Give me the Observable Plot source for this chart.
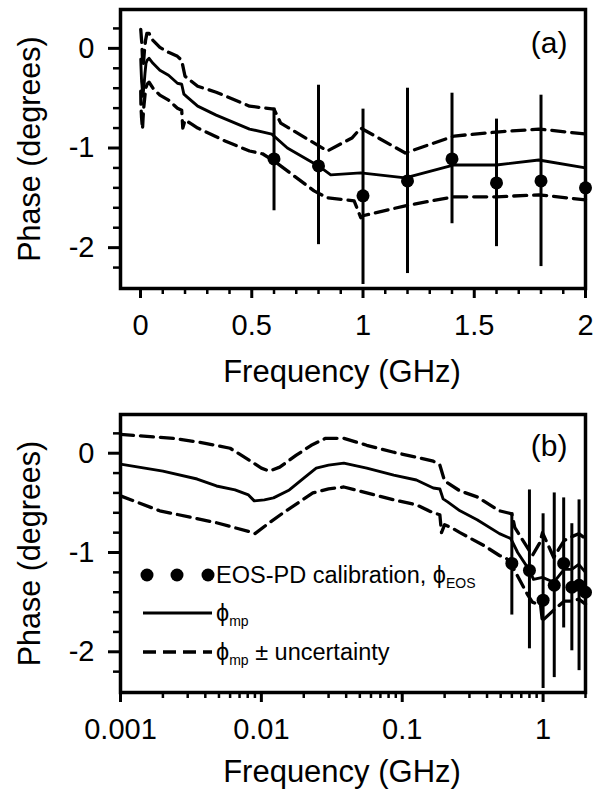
<!DOCTYPE html>
<html><head><meta charset="utf-8">
<script src="https://cdn.jsdelivr.net/npm/d3@7"></script>
<script src="https://cdn.jsdelivr.net/npm/@observablehq/plot@0.6"></script>
<style>
body{margin:0;background:#fff;}
#wrap{position:relative;width:600px;height:792px;font-family:"Liberation Sans",Arial,sans-serif;color:#000;}
#wrap svg{display:block}
.lg{position:absolute;left:0;top:0;width:600px;height:792px;pointer-events:none}
.lt{position:absolute;font-size:23.5px;line-height:30px;height:30px;white-space:nowrap}
.lt sub{font-size:14px;vertical-align:-5px;line-height:0}
</style></head><body><div id="wrap"></div>
<script>
// φ_mp (solid)
const phiF = [0.001,0.002,0.0035,0.0048,0.0065,0.0081,0.0089,0.0105,0.0122,0.0158,0.02,0.0245,0.03,0.0385,0.056,0.087,0.126,0.166,0.185,0.195,0.21,0.257,0.34,0.49,0.59,0.66,0.8,0.855,0.99,1.19,1.41,1.6,1.79,2.0];
const phiV = [-0.11,-0.18,-0.26,-0.33,-0.37,-0.42,-0.48,-0.47,-0.45,-0.37,-0.25,-0.15,-0.12,-0.10,-0.15,-0.22,-0.27,-0.35,-0.36,-0.46,-0.49,-0.58,-0.67,-0.81,-0.86,-1.0,-1.18,-1.27,-1.25,-1.30,-1.17,-1.17,-1.12,-1.20];
// φ_mp + uncertainty (dashed)
const upF = [0.001,0.0024,0.004,0.006,0.0082,0.010,0.0114,0.0135,0.0177,0.0226,0.0286,0.0385,0.056,0.087,0.126,0.166,0.185,0.2,0.257,0.34,0.49,0.6,0.63,0.84,0.95,0.99,1.19,1.41,1.6,1.79,2.0];
const upV = [0.19,0.15,0.10,0.05,-0.07,-0.15,-0.18,-0.14,-0.02,0.08,0.15,0.15,0.08,0.01,-0.04,-0.08,-0.12,-0.28,-0.38,-0.44,-0.58,-0.61,-0.75,-1.03,-0.90,-0.80,-1.05,-0.88,-0.84,-0.81,-0.86];
// φ_mp − uncertainty (dashed)
const loF = [0.001,0.0019,0.0048,0.0082,0.009,0.0114,0.0143,0.0232,0.030,0.0385,0.056,0.087,0.126,0.166,0.185,0.19,0.2,0.23,0.257,0.38,0.49,0.55,0.6,0.78,0.84,0.96,0.99,1.0,1.19,1.31,1.41,1.6,1.79,2.0];
const loV = [-0.43,-0.58,-0.70,-0.79,-0.81,-0.70,-0.60,-0.40,-0.36,-0.34,-0.40,-0.47,-0.52,-0.60,-0.62,-0.80,-0.72,-0.76,-0.80,-0.93,-1.03,-1.06,-1.13,-1.43,-1.50,-1.53,-1.70,-1.68,-1.58,-1.53,-1.49,-1.49,-1.47,-1.52];
// EOS-PD calibration
const eosF = [0.6,0.8,1.0,1.2,1.4,1.6,1.8,2.0];
const eosV = [-1.11,-1.18,-1.48,-1.33,-1.11,-1.35,-1.33,-1.40];
const eosLo = [-1.63,-1.97,-2.37,-2.26,-1.76,-1.99,-2.19,-2.20];
const eosHi = [-0.60,-0.37,-0.61,-0.40,-0.45,-0.71,-0.47,-0.60];
// ticks
const yMajor = [-2,-1,0];
const yMinor = [-2.2,-1.8,-1.6,-1.4,-1.2,-0.8,-0.6,-0.4,-0.2,0.2];
const xMajorLin = [0,0.5,1,1.5,2];
const xMinorLin = [0.1,0.2,0.3,0.4,0.6,0.7,0.8,0.9,1.1,1.2,1.3,1.4,1.6,1.7,1.8,1.9];
const xMajorLog = [0.001,0.01,0.1,1];
const xMinorLog = [0.002,0.003,0.004,0.005,0.006,0.007,0.008,0.009,0.02,0.03,0.04,0.05,0.06,0.07,0.08,0.09,0.2,0.3,0.4,0.5,0.6,0.7,0.8,0.9,2];
const yLabel = "Phase (degrees)";
const xLabel = "Frequency (GHz)";

const toPts = (F, V) => F.map((f, i) => ({f, v: V[i]}));
const phi = toPts(phiF, phiV), up = toPts(upF, upV), lo = toPts(loF, loV);
const eos = eosF.map((f, i) => ({f, v: eosV[i], lo: eosLo[i], hi: eosHi[i]}));

const font = '"Liberation Sans", Arial, sans-serif';
function panel({height, marginTop, marginBottom, xScale, xMajor, xMinor, tag, tagDy, xLabelDy}) {
  return Plot.plot({
    width: 600, height, marginLeft: 120, marginRight: 15, marginTop, marginBottom,
    x: xScale, y: {domain: [-2.41, 0.39], label: null},
    style: {fontFamily: font, fontSize: "29px", color: "#000", background: "#fff", overflow: "visible"},
    marks: [
      Plot.axisY(yMajor, {tickSize: 12, tickPadding: 14, strokeWidth: 3, tickFormat: d => String(d), label: null}),
      Plot.axisY(yMinor, {tickSize: 7, strokeWidth: 2.5, tickFormat: () => "", label: null}),
      Plot.axisX(xMajor, {tickSize: 10, tickPadding: 16, strokeWidth: 3, tickFormat: d => String(d), label: null}),
      Plot.axisX(xMinor, {tickSize: 6, strokeWidth: 2.5, tickFormat: () => "", label: null}),
      Plot.line(up, {x: "f", y: "v", stroke: "#000", strokeWidth: 3.3, strokeDasharray: "13,7"}),
      Plot.line(lo, {x: "f", y: "v", stroke: "#000", strokeWidth: 3.3, strokeDasharray: "13,7"}),
      Plot.line(phi, {x: "f", y: "v", stroke: "#000", strokeWidth: 2.9}),
      Plot.ruleX(eos, {x: "f", y1: "lo", y2: "hi", stroke: "#000", strokeWidth: 3}),
      Plot.dot(eos, {x: "f", y: "v", r: 6.5, fill: "#000", stroke: "none"}),
      Plot.frame({stroke: "#000", strokeWidth: 3.5}),
      Plot.text([tag], {frameAnchor: "top-right", dx: -18, dy: tagDy, lineAnchor: "top", fontSize: 30}),
      Plot.text([yLabel], {frameAnchor: "left", dx: -90, rotate: -90, fontSize: 30.5, lineAnchor: "middle", textAnchor: "middle"}),
      Plot.text([xLabel], {frameAnchor: "bottom", dx: -11, dy: xLabelDy, fontSize: 31, lineAnchor: "middle", textAnchor: "middle"})
    ]
  });
}

const wrap = document.getElementById("wrap");
wrap.append(panel({height: 390, marginTop: 9, marginBottom: 102, xScale: {domain: [-0.09, 2], label: null},
  xMajor: xMajorLin, xMinor: xMinorLin, tag: "(a)", tagDy: 22, xLabelDy: 84}));
wrap.append(panel({height: 402, marginTop: 24, marginBottom: 100, xScale: {type: "log", domain: [0.001, 2], label: null},
  xMajor: xMajorLog, xMinor: xMinorLog, tag: "(b)", tagDy: 20, xLabelDy: 80}));

// legend for panel (b)
const ns = "http://www.w3.org/2000/svg";
const lg = document.createElementNS(ns, "svg");
lg.setAttribute("class", "lg"); lg.setAttribute("width", 600); lg.setAttribute("height", 792);
lg.innerHTML =
  '<circle cx="147" cy="575" r="6.5" fill="#000"/><circle cx="177" cy="575" r="6.5" fill="#000"/><circle cx="208" cy="575" r="6.5" fill="#000"/>' +
  '<line x1="143" x2="212" y1="613" y2="613" stroke="#000" stroke-width="2.9"/>' +
  '<line x1="143" x2="212" y1="652" y2="652" stroke="#000" stroke-width="3.3" stroke-dasharray="13,7"/>';
wrap.append(lg);
const rows = [
  {top: 560, html: 'EOS-PD calibration, \u03D5<sub>EOS</sub>'},
  {top: 598, html: '\u03D5<sub>mp</sub>'},
  {top: 637, html: '\u03D5<sub>mp</sub> \u00B1 uncertainty'}
];
for (const r of rows) {
  const d = document.createElement("div");
  d.className = "lt"; d.style.left = "216px"; d.style.top = r.top + "px";
  d.innerHTML = r.html; wrap.append(d);
}
</script>
</body></html>
